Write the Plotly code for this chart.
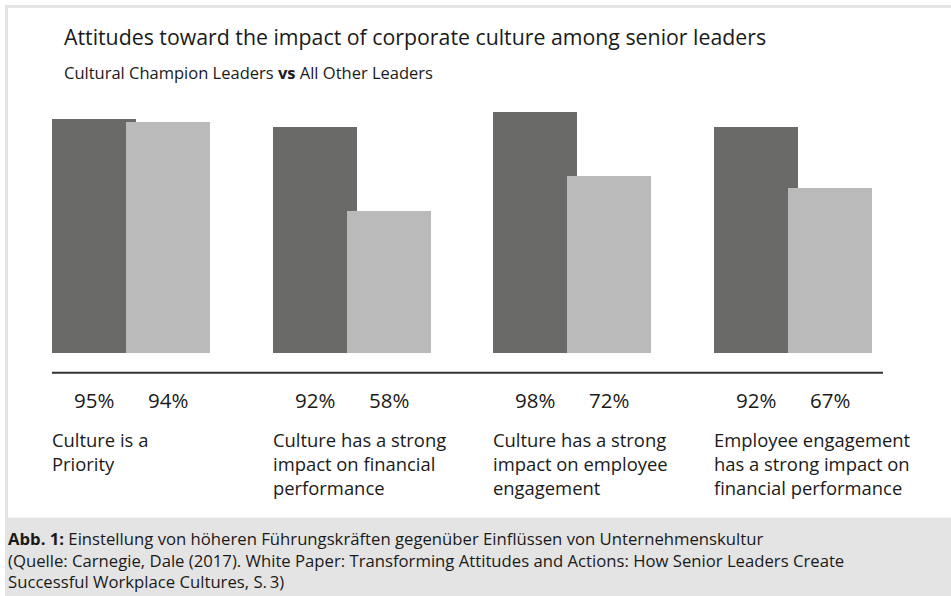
import plotly.graph_objects as go

W, H = 951, 596

categories = [
    "Culture is a<br>Priority",
    "Culture has a strong<br>impact on financial<br>performance",
    "Culture has a strong<br>impact on employee<br>engagement",
    "Employee engagement<br>has a strong impact on<br>financial performance",
]
champion_values = [95, 92, 98, 92]
other_values = [94, 58, 72, 67]
series_names = ["Cultural Champion Leaders", "All Other Leaders"]

title_text = "Attitudes toward the impact of corporate culture among senior leaders"
subtitle_text = "Cultural Champion Leaders <b>vs</b> All Other Leaders"
caption_text = ("<b>Abb. 1:</b> Einstellung von höheren Führungskräften gegenüber Einflüssen von Unternehmenskultur<br>"
                "(Quelle: Carnegie, Dale (2017). White Paper: Transforming Attitudes and Actions: How Senior Leaders Create<br>"
                "Successful Workplace Cultures, S.\u20093)")

DARK = "#6a6a68"
LIGHT = "#bababa"
FONT = "Open Sans"
TXT = "#1a1a1a"

def px_x(p):
    return p / W

def px_y(p):
    return 1 - p / H

x = list(range(len(categories)))
unit = 220.5  # px per category
bar_w = 84 / unit
dark_off = -79 / unit
light_off = -5 / unit

fig = go.Figure()
fig.add_trace(go.Bar(x=x, y=champion_values, name=series_names[0], marker_color=DARK,
                     width=bar_w, offset=dark_off, marker_line_width=0))
fig.add_trace(go.Bar(x=x, y=other_values, name=series_names[1], marker_color=LIGHT,
                     width=bar_w, offset=light_off, marker_line_width=0))

x_lo = -0.5
x_hi = len(categories) - 0.5
left_px = 131 - 0.5 * unit
right_px = 131 + (len(categories) - 0.5) * unit
y0_px, y100_px = 353, 106.5

shapes = [
    dict(type="rect", xref="paper", yref="paper", x0=px_x(6.5), x1=1.05, y0=px_y(519), y1=px_y(6.5),
         line=dict(color="#e4e4e4", width=3), fillcolor="white", layer="below"),
    dict(type="rect", xref="paper", yref="paper", x0=px_x(5), x1=1.05, y0=-0.05, y1=px_y(519),
         line=dict(width=0), fillcolor="#e4e4e4", layer="below"),
    dict(type="line", xref="paper", yref="paper", x0=px_x(52), x1=px_x(883), y0=px_y(372.7), y1=px_y(372.7),
         line=dict(color="#333333", width=2)),
]

annotations = [
    dict(text=title_text, xref="paper", yref="paper", x=px_x(62), y=px_y(36), xanchor="left", yanchor="middle",
         showarrow=False, font=dict(family=FONT, size=21.3, color=TXT)),
    dict(text=subtitle_text, xref="paper", yref="paper", x=px_x(62), y=px_y(72), xanchor="left", yanchor="middle",
         showarrow=False, font=dict(family=FONT, size=16.5, color=TXT)),
    dict(text=caption_text, xref="paper", yref="paper", x=px_x(6), y=px_y(560), xanchor="left", yanchor="middle",
         align="left", showarrow=False, font=dict(family=FONT, size=16.7, color=TXT)),
]
for i, (c, a, b) in enumerate(zip(categories, champion_values, other_values)):
    annotations.append(dict(text=f"{a}%", x=i + dark_off + bar_w / 2, xref="x", yref="paper", y=px_y(400),
                            xanchor="center", yanchor="middle", showarrow=False,
                            font=dict(family=FONT, size=20.5, color=TXT)))
    annotations.append(dict(text=f"{b}%", x=i + light_off + bar_w / 2, xref="x", yref="paper", y=px_y(400),
                            xanchor="center", yanchor="middle", showarrow=False,
                            font=dict(family=FONT, size=20.5, color=TXT)))
    annotations.append(dict(text=c, x=i + dark_off, xref="x", yref="paper", y=px_y(425), xanchor="left",
                            xshift=-2, yanchor="top", align="left", showarrow=False,
                            font=dict(family=FONT, size=18.4, color=TXT)))

fig.update_layout(
    width=W, height=H, margin=dict(l=0, r=0, t=0, b=0),
    paper_bgcolor="white", plot_bgcolor="rgba(0,0,0,0)",
    barmode="overlay", bargap=0, showlegend=False,
    xaxis=dict(range=[x_lo, x_hi], domain=[px_x(left_px), px_x(right_px)], visible=False, fixedrange=True),
    yaxis=dict(range=[0, 100], domain=[px_y(y0_px), px_y(y100_px)], visible=False, fixedrange=True),
    shapes=shapes, annotations=annotations,
    font=dict(family=FONT),
)

fig.write_html("out.html", config={"displayModeBar": False})
